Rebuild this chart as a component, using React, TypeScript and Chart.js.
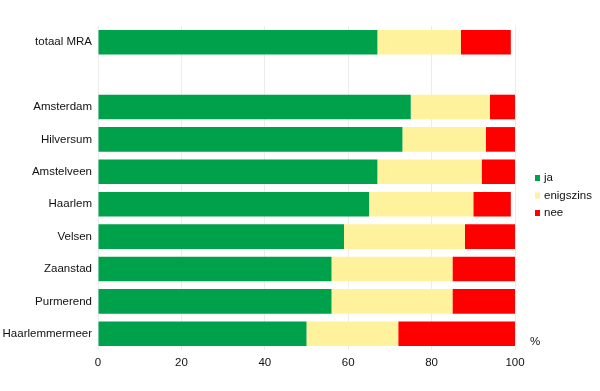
import React, { useEffect, useRef } from "react";
import { Chart, registerables } from "chart.js";

Chart.register(...registerables);

const categories = ["totaal MRA", "", "Amsterdam", "Hilversum", "Amstelveen", "Haarlem", "Velsen", "Zaanstad", "Purmerend", "Haarlemmermeer"];
const jaValues = [67, null, 75, 73, 67, 65, 59, 56, 56, 50];
const enigszinsValues = [20, null, 19, 20, 25, 25, 29, 29, 29, 22];
const neeValues = [12, null, 6, 7, 8, 9, 12, 15, 15, 28];
const seriesLabels = ["ja", "enigszins", "nee"];
const seriesColors = ["#00a14b", "#fff29c", "#ff0000"];
const xTicks = [0, 20, 40, 60, 80, 100];
const unitLabel = "%";

const FONT = "'Liberation Sans', Arial, sans-serif";

const overlayPlugin = {
  id: "overlay",
  afterDraw(chart: any) {
    const ctx = chart.ctx;
    ctx.save();
    ctx.font = `11.5px ${FONT}`;
    ctx.textBaseline = "middle";
    ctx.textAlign = "left";
    const startY = 178;
    seriesLabels.forEach((lab, i) => {
      const y = startY + i * 17.5;
      ctx.fillStyle = seriesColors[i];
      ctx.fillRect(535, y - 3, 5, 6);
      ctx.fillStyle = "#111";
      ctx.fillText(lab, 544, y);
    });
    ctx.fillText(unitLabel, 530, 342);
    ctx.restore();
  },
};

export default function App() {
  const ref = useRef<HTMLCanvasElement>(null);
  useEffect(() => {
    if (!ref.current) return;
    const data = [jaValues, enigszinsValues, neeValues];
    const chart = new Chart(ref.current, {
      type: "bar",
      data: {
        labels: categories,
        datasets: seriesLabels.map((lab, i) => ({
          label: lab,
          data: data[i],
          backgroundColor: seriesColors[i],
          borderWidth: 0,
          barPercentage: 0.76,
          categoryPercentage: 1,
        })),
      },
      options: {
        indexAxis: "y",
        animation: false,
        responsive: false,
        maintainAspectRatio: false,
        layout: { padding: { left: 0, right: 85, top: 26, bottom: 0 } },
        plugins: { legend: { display: false }, tooltip: { enabled: false } },
        scales: {
          x: {
            stacked: true,
            min: 0,
            max: 100,
            afterBuildTicks: (scale: any) => {
              scale.ticks = xTicks.map((v) => ({ value: v }));
            },
            afterFit: (scale: any) => {
              scale.height = 41;
            },
            grid: { color: "#ececec", drawTicks: false, lineWidth: 1 },
            border: { display: false },
            ticks: { font: { size: 11.5, family: FONT }, color: "#111", padding: 6, maxRotation: 0 },
          },
          y: {
            stacked: true,
            afterFit: (scale: any) => {
              scale.width = 98;
            },
            grid: { display: false, drawTicks: false },
            border: { display: false },
            ticks: { font: { size: 11.5, family: FONT }, color: "#111", padding: 6, autoSkip: false },
          },
        },
      },
      plugins: [overlayPlugin],
    });
    return () => chart.destroy();
  }, []);
  return (
    <div style={{ position: "fixed", left: 0, top: 0, width: 600, height: 391, background: "#fff" }}>
      <canvas ref={ref} width={600} height={391} style={{ width: 600, height: 391 }} />
    </div>
  );
}
